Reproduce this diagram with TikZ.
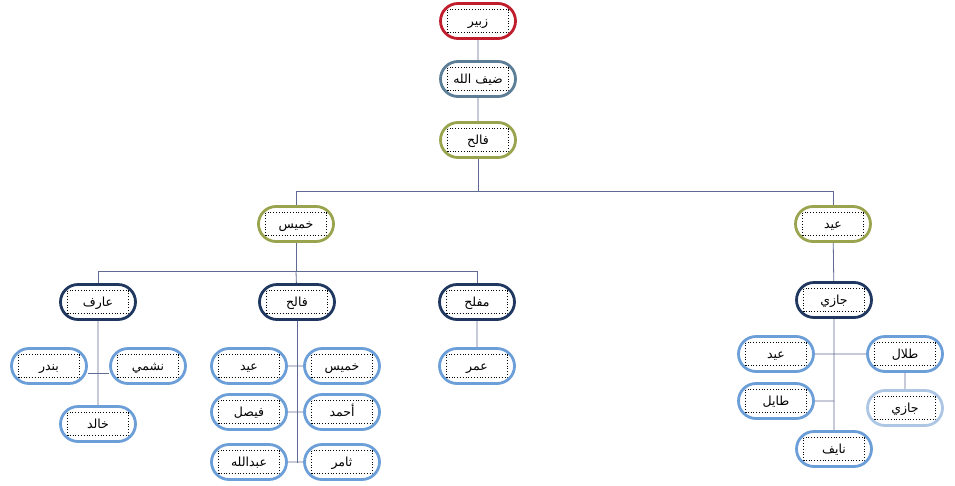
\documentclass[tikz,border=0pt]{standalone}
\usepackage{fontspec}
\newfontfamily\arabicfont[Script=Arabic]{DejaVu Sans}
\TeXXeTstate=1
\usetikzlibrary{backgrounds,%
		positioning,%
		shapes.misc}

\definecolor{rosso}{RGB}{192,30,45}
\definecolor{acciaio}{RGB}{92,126,150}
\definecolor{oliva}{RGB}{154,164,78}
\definecolor{blu}{RGB}{32,56,96}
\definecolor{azzurro}{RGB}{108,158,216}
\definecolor{pallido}{RGB}{172,198,228}
\definecolor{linea}{RGB}{96,106,146}

\newcommand{\ar}[1]{\beginR #1\endR}

\tikzset{box/.style={rounded rectangle,draw,fill=white,line width=2.8pt,
		minimum width=75pt,minimum height=35pt,inner sep=0pt,
		text height=9pt,text depth=1pt,
		font=\arabicfont\fontsize{12.5}{14}\selectfont,
		path picture={\draw[black,dotted,line width=0.8pt]
			([shift={(7pt,-6pt)}]path picture bounding box.north west) rectangle
			([shift={(-7pt,6pt)}]path picture bounding box.south east);}},
	capo/.style={box,draw=rosso},
	liv1/.style={box,draw=acciaio},
	liv2/.style={box,draw=oliva},
	liv3/.style={box,draw=blu},
	liv4/.style={box,draw=azzurro},
	liv5/.style={box,draw=pallido},
	con/.style={draw=linea,line width=0.8pt}}

\begin{document}
\begin{tikzpicture}[x=1pt,y=-1pt]
\useasboundingbox (0,0) rectangle (955,485);

\begin{scope}
\node[capo] (z) at (478,21) {\ar{زبير}};
\node[liv1] (d) at (478,79) {\ar{ضيف الله}};
\node[liv2] (f) at (478,140) {\ar{فالح}};

\node[liv2] (k) at (296,224) {\ar{خميس}};
\node[liv2] (e) at (833,224) {\ar{عيد}};

\node[liv3] (a1) at (98,302) {\ar{عارف}};
\node[liv3] (a2) at (297,302) {\ar{فالح}};
\node[liv3] (a3) at (477,302) {\ar{مفلح}};
\node[liv3] (j) at (834,300) {\ar{جازي}};

\node[liv4] (bn) at (49,366) {\ar{بندر}};
\node[liv4] (ns) at (148,366) {\ar{نشمي}};
\node[liv4] (kh) at (98,424) {\ar{خالد}};

\node[liv4] (fe) at (249,366) {\ar{عيد}};
\node[liv4] (fs) at (249,412) {\ar{فيصل}};
\node[liv4] (fa) at (249,462) {\ar{عبدالله}};
\node[liv4] (fk) at (342,366) {\ar{خميس}};
\node[liv4] (fh) at (342,412) {\ar{أحمد}};
\node[liv4] (ft) at (342,462) {\ar{ثامر}};

\node[liv4] (om) at (477,366) {\ar{عمر}};

\node[liv4] (je) at (776,354) {\ar{عيد}};
\node[liv4] (tl) at (905,354) {\ar{طلال}};
\node[liv4] (ty) at (776,401) {\ar{طايل}};
\node[liv4] (ny) at (834,449) {\ar{نايف}};
\node[liv5] (j2) at (905,408) {\ar{جازي}};
\end{scope}

\coordinate (b1) at (478,191);
\coordinate (b2) at (296,271);
\coordinate (m1) at (98,373);
\coordinate (m2) at (297,463);

\begin{scope}[on background layer]
\draw[con] (z) -- (d);
\draw[con] (d) -- (f);
\draw[con] (f) -- (b1) -| (k);
\draw[con] (b1) -| (e);

\draw[con] (k) -- (b2) -| (a1);
\draw[con] (b2) -| (a3);
\draw[con] (b2) -- (a2);

\draw[con] (a1) -- (kh);
\draw[con] (bn.east |- m1) -- (ns.west |- m1);

\draw[con] (a2) -- (m2);
\draw[con] (fe) -- (fk);
\draw[con] (fs) -- (fh);
\draw[con] (fa) -- (ft);

\draw[con] (a3) -- (om);

\draw[con] (e) -- (j);
\draw[con] (j) -- (ny);
\draw[con] (je) -- (tl);
\draw[con] (ty) -- (ty -| j);
\draw[con] (tl) -- (j2);
\end{scope}

\end{tikzpicture}
\end{document}
